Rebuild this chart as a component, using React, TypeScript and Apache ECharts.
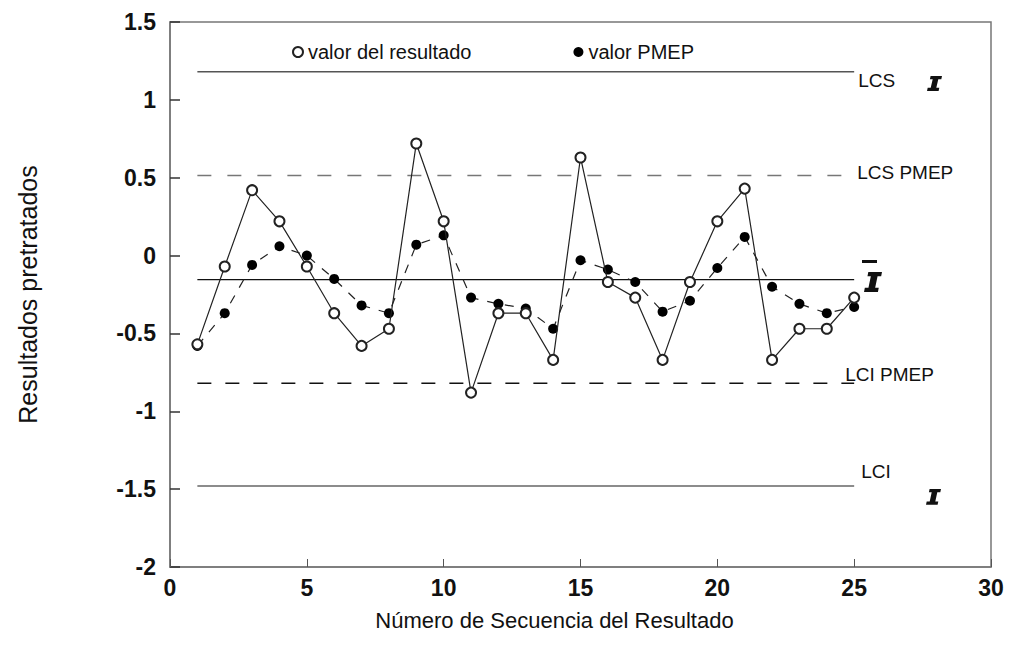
import React, { useEffect, useRef } from "react";
import * as echarts from "echarts";

const seq = [1, 2, 3, 4, 5, 6, 7, 8, 9, 10, 11, 12, 13, 14, 15, 16, 17, 18, 19, 20, 21, 22, 23, 24, 25];
const resultValues = [-0.57, -0.07, 0.42, 0.22, -0.07, -0.37, -0.58, -0.47, 0.72, 0.22, -0.88, -0.37, -0.37, -0.67, 0.63, -0.17, -0.27, -0.67, -0.17, 0.22, 0.43, -0.67, -0.47, -0.47, -0.27];
const pmepValues = [-0.58, -0.37, -0.06, 0.06, 0.0, -0.15, -0.32, -0.37, 0.07, 0.13, -0.27, -0.31, -0.34, -0.47, -0.03, -0.09, -0.17, -0.36, -0.29, -0.08, 0.12, -0.2, -0.31, -0.37, -0.33];

const limitNames = ["LCS", "LCS PMEP", "", "LCI PMEP", "LCI"];
const limitValues = [1.18, 0.515, -0.155, -0.82, -1.48];
const limitStart = 1;
const limitEnd = 25;

const yTicks = { min: -2, max: 1.5, interval: 0.5 };
const xTicks = { min: 0, max: 30, interval: 5 };

const FONT = "Liberation Sans, Arial, sans-serif";

const IBEAM_D = "M3.6 0 L15 0 L14.3 3.2 L11.3 3.2 L9.3 11.8 L12.3 11.8 L11.6 15 L0 15 L0.7 11.8 L3.7 11.8 L5.7 3.2 L2.9 3.2 Z";
echarts.graphic.registerShape("ibeam", echarts.graphic.extendPath(IBEAM_D, {}));

export default function App() {
  const ref = useRef<HTMLDivElement>(null);
  useEffect(() => {
    if (!ref.current) return;
    const chart = echarts.init(ref.current, undefined, { renderer: "svg" });

    const limitStyles = [
      { color: "#555", type: "solid", width: 1.5, offset: [0, 9] },
      { color: "#777", type: [14, 16], width: 1.5, offset: [-1, -3] },
      { color: "#111", type: "solid", width: 1.2, offset: [0, 0] },
      { color: "#111", type: [14, 14], width: 1.5, offset: [-13, -9] },
      { color: "#666", type: "solid", width: 1.5, offset: [3, -15] },
    ];

    const limitSeries = limitValues.map((v, i) => ({
      type: "line",
      name: "lim" + i,
      data: [
        [limitStart, v],
        [limitEnd, v],
      ],
      symbol: "none",
      silent: true,
      lineStyle: { color: limitStyles[i].color, type: limitStyles[i].type, width: limitStyles[i].width },
      endLabel: {
        show: limitNames[i] !== "",
        formatter: limitNames[i],
        color: "#111",
        fontSize: 19,
        fontFamily: FONT,
        distance: 4,
        offset: limitStyles[i].offset,
      },
      z: 1,
    }));

    chart.setOption({
      animation: false,
      backgroundColor: "#fff",
      grid: {
        left: 170,
        right: 19,
        top: 22,
        bottom: 93,
        show: true,
        borderColor: "#777",
        borderWidth: 1.5,
      },
      legend: {
        left: 287,
        top: 37,
        itemWidth: 10,
        itemHeight: 10,
        itemGap: 102,
        textStyle: { fontSize: 20, fontFamily: FONT, color: "#111" },
        data: [
          { name: "valor del resultado", icon: "emptyCircle" },
          { name: "valor PMEP", icon: "circle" },
        ],
      },
      xAxis: {
        type: "value",
        min: xTicks.min,
        max: xTicks.max,
        interval: xTicks.interval,
        name: "Número de Secuencia del Resultado",
        nameLocation: "middle",
        nameGap: 42,
        nameTextStyle: { fontSize: 22, fontFamily: FONT, color: "#111", padding: [0, 52, 0, 0] },
        axisLine: { show: true, onZero: false, lineStyle: { color: "#777", width: 1.5 } },
        axisTick: { show: true, inside: true, length: 8, lineStyle: { color: "#555" } },
        axisLabel: { fontSize: 23, fontWeight: "bold", fontFamily: FONT, color: "#111", margin: 9 },
        splitLine: { show: false },
      },
      yAxis: {
        type: "value",
        min: yTicks.min,
        max: yTicks.max,
        interval: yTicks.interval,
        name: "Resultados pretratados",
        nameLocation: "middle",
        nameGap: 130,
        nameTextStyle: { fontSize: 25, fontFamily: FONT, color: "#111" },
        axisLine: { show: true, onZero: false, lineStyle: { color: "#777", width: 1.5 } },
        axisTick: { show: true, inside: true, length: 10, lineStyle: { color: "#333", width: 1.5 } },
        axisLabel: { fontSize: 23, fontWeight: "bold", fontFamily: FONT, color: "#111", margin: 14 },
        splitLine: { show: false },
      },
      series: [
        ...limitSeries,
        {
          type: "line",
          name: "valor PMEP",
          data: seq.map((x, i) => [x, pmepValues[i]]),
          symbol: "circle",
          symbolSize: 10,
          itemStyle: { color: "#000" },
          lineStyle: { color: "#222", width: 1.2, type: [9, 9] },
          z: 3,
        },
        {
          type: "line",
          name: "valor del resultado",
          data: seq.map((x, i) => [x, resultValues[i]]),
          symbol: "emptyCircle",
          symbolSize: 10,
          itemStyle: { color: "#222", borderWidth: 1.2 },
          lineStyle: { color: "#222", width: 1.2 },
          z: 4,
        },
      ],
      graphic: [
        { type: "ibeam", x: 927, y: 76, scaleX: 1, scaleY: 1, style: { fill: "#111" } },
        { type: "ibeam", x: 864, y: 272, scaleX: 1.2, scaleY: 1.33, style: { fill: "#111" } },
        { type: "rect", shape: { x: 862, y: 260, width: 15, height: 3 }, style: { fill: "#111" } },
        { type: "ibeam", x: 926, y: 489, scaleX: 1, scaleY: 1.05, style: { fill: "#111" } },
      ],
    });
    return () => chart.dispose();
  }, []);
  return <div ref={ref} style={{ position: "fixed", left: 0, top: 0, width: 1010, height: 660 }} />;
}
